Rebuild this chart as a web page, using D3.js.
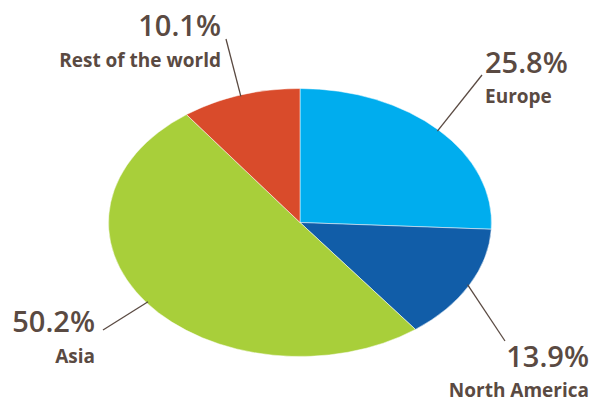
<!DOCTYPE html>
<html>
<head>
<meta charset="utf-8">
<script src="https://cdn.jsdelivr.net/npm/d3@7"></script>
<style>
  html, body { margin: 0; padding: 0; background: #fff; }
  svg { display: block; }
  text { font-family: "Open Sans", "DejaVu Sans", sans-serif; fill: #5a4a42; }
</style>
</head>
<body>
<svg id="chart" width="598" height="401"></svg>
<script>
// Data
const categories = ["Europe", "North America", "Asia", "Rest of the world"];
const values = [25.8, 13.9, 50.2, 10.1];
const colors = ["#00adee", "#115da8", "#a8cf3a", "#d94b2b"];
const pctLabels = ["25.8%", "13.9%", "50.2%", "10.1%"];

// Layout
const W = 598, H = 401;
const cx = 300, cy = 222.5, rx = 191.5, ry = 134;

// Label layout (text positions & leader outer ends)
const labelLayout = [
  { anchor: "start", x: 485, pctY: 73,  nameY: 103, lx: 482, ly: 75 },
  { anchor: "end",   x: 589, pctY: 367, nameY: 397, lx: 505, ly: 341 },
  { anchor: "end",   x: 95,  pctY: 332, nameY: 363, lx: 103, ly: 330 },
  { anchor: "end",   x: 221, pctY: 36,  nameY: 67,  lx: 226, ly: 39 }
];

const svg = d3.select("#chart");

const pie = d3.pie().sort(null).value(d => d.value);
const arcs = pie(categories.map((c, i) => ({ name: c, value: values[i] })));

const arc = d3.arc().innerRadius(0).outerRadius(ry);

const g = svg.append("g")
  .attr("transform", `translate(${cx},${cy}) scale(${rx / ry},1)`);

g.selectAll("path")
  .data(arcs)
  .join("path")
  .attr("d", arc)
  .attr("fill", (d, i) => colors[i])
  .attr("stroke", "#ffffff")
  .attr("stroke-width", 0.5)
  .attr("vector-effect", "non-scaling-stroke");

// Leader lines: inner end on the ellipse at the slice mid-angle
const lines = svg.append("g");
arcs.forEach((d, i) => {
  const a = (d.startAngle + d.endAngle) / 2;
  const r = 0.99;
  const ix = cx + rx * r * Math.sin(a);
  const iy = cy - ry * r * Math.cos(a);
  const L = labelLayout[i];
  lines.append("line")
    .attr("x1", L.lx).attr("y1", L.ly)
    .attr("x2", ix).attr("y2", iy)
    .attr("stroke", "#5a4a42")
    .attr("stroke-width", 1.3);
});

const labels = svg.append("g");
arcs.forEach((d, i) => {
  const L = labelLayout[i];
  labels.append("text")
    .attr("x", L.x).attr("y", L.pctY)
    .attr("text-anchor", L.anchor)
    .attr("font-size", 29)
    .attr("font-weight", 600)
    .text(pctLabels[i]);
  labels.append("text")
    .attr("x", L.x).attr("y", L.nameY)
    .attr("text-anchor", L.anchor)
    .attr("font-size", 19)
    .attr("font-weight", 700)
    .text(categories[i]);
});
</script>
</body>
</html>
